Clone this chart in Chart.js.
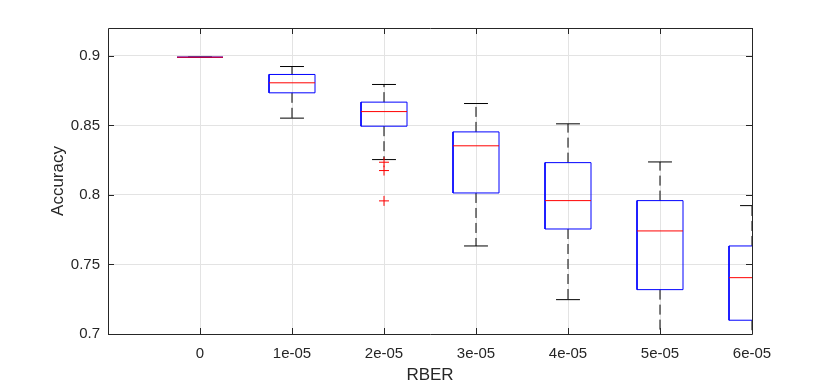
<!DOCTYPE html>
<html>
<head>
<meta charset="utf-8">
<script src="https://cdn.jsdelivr.net/npm/chart.js@4"></script>
<style>
  html, body { margin: 0; padding: 0; background: #fff; }
  canvas { display: block; }
</style>
</head>
<body>
<canvas id="boxChart" width="830" height="387"></canvas>
<script>
// RBER vs accuracy box plot (MATLAB style)

const categories = ['0', '1e-05', '2e-05', '3e-05', '4e-05', '5e-05', '6e-05'];
const upperWhisker = [0.899, 0.8923, 0.8794, 0.8657, 0.8511, 0.8237, 0.7923];
const q3Values = [0.899, 0.8866, 0.8667, 0.8453, 0.8232, 0.7959, 0.7633];
const medianValues = [0.899, 0.8806, 0.8599, 0.8353, 0.7959, 0.7741, 0.7405];
const q1Values = [0.899, 0.8734, 0.8494, 0.8014, 0.7755, 0.7319, 0.7099];
const lowerWhisker = [0.899, 0.8552, 0.8254, 0.7633, 0.7247, 0.69, 0.67];
const outlierCategory = [2, 2, 2];
const outlierValues = [0.8235, 0.8175, 0.7957];
const yTickValues = [0.7, 0.75, 0.8, 0.85, 0.9];
const yTickLabels = ['0.7', '0.75', '0.8', '0.85', '0.9'];

const BOX_HALF = 0.25;
const CAP_HALF = 0.13;
const TEXT_COLOR = '#262626';

// build segment lists, null point breaks the line
function gap(i) { return { x: i, y: null }; }

function boxOutlines() {
    const pts = [];
    categories.forEach((c, i) => {
        const l = i - BOX_HALF, r = i + BOX_HALF;
        pts.push({ x: l, y: q1Values[i] }, { x: r, y: q1Values[i] },
                 { x: r, y: q3Values[i] }, { x: l, y: q3Values[i] },
                 { x: l, y: q1Values[i] }, gap(i));
    });
    return pts;
}

function whiskerLines() {
    const pts = [];
    categories.forEach((c, i) => {
        pts.push({ x: i, y: q3Values[i] }, { x: i, y: upperWhisker[i] }, gap(i));
        pts.push({ x: i, y: q1Values[i] }, { x: i, y: lowerWhisker[i] }, gap(i));
    });
    return pts;
}

function capLines() {
    const pts = [];
    categories.forEach((c, i) => {
        pts.push({ x: i - CAP_HALF, y: upperWhisker[i] }, { x: i + CAP_HALF, y: upperWhisker[i] }, gap(i));
        pts.push({ x: i - CAP_HALF, y: lowerWhisker[i] }, { x: i + CAP_HALF, y: lowerWhisker[i] }, gap(i));
    });
    return pts;
}

function medianLines() {
    const pts = [];
    categories.forEach((c, i) => {
        pts.push({ x: i - BOX_HALF, y: medianValues[i] }, { x: i + BOX_HALF, y: medianValues[i] }, gap(i));
    });
    return pts;
}

function outlierPoints() {
    return outlierValues.map((v, k) => ({ x: outlierCategory[k], y: v }));
}

// frame with inward tick marks on all four sides
const framePlugin = {
    id: 'frame',
    afterDatasetsDraw(chart) {
        const { ctx, chartArea: a, scales } = chart;
        const tick = 6;
        ctx.save();
        ctx.strokeStyle = TEXT_COLOR;
        ctx.lineWidth = 1;
        ctx.beginPath();
        ctx.rect(a.left + 0.5, a.top + 0.5, a.right - a.left, a.bottom - a.top);
        categories.forEach((c, i) => {
            const x = Math.round(scales.x.getPixelForValue(i)) + 0.5;
            ctx.moveTo(x, a.bottom); ctx.lineTo(x, a.bottom - tick);
            ctx.moveTo(x, a.top); ctx.lineTo(x, a.top + tick);
        });
        yTickValues.forEach(v => {
            const y = Math.round(scales.y.getPixelForValue(v)) + 0.5;
            ctx.moveTo(a.left, y); ctx.lineTo(a.left + tick, y);
            ctx.moveTo(a.right, y); ctx.lineTo(a.right - tick, y);
        });
        ctx.stroke();
        ctx.restore();
    }
};

const lineDefaults = {
    type: 'line',
    pointRadius: 0,
    borderWidth: 1,
    fill: false,
    tension: 0,
    spanGaps: false
};

new Chart(document.getElementById('boxChart'), {
    data: {
        datasets: [
            Object.assign({}, lineDefaults, { label: 'median', data: medianLines(), borderColor: '#ff0000', order: 0 }),
            {
                type: 'scatter', label: 'outliers', data: outlierPoints(),
                pointStyle: 'cross', pointRadius: 5, borderColor: '#ff0000',
                pointBorderWidth: 1, showLine: false, order: 1
            },
            Object.assign({}, lineDefaults, { label: 'box', data: boxOutlines(), borderColor: '#0000ff', order: 2 }),
            Object.assign({}, lineDefaults, { label: 'caps', data: capLines(), borderColor: '#000000', order: 3 }),
            Object.assign({}, lineDefaults, { label: 'whiskers', data: whiskerLines(), borderColor: '#000000', borderDash: [10, 5], order: 4 })
        ]
    },
    options: {
        responsive: false,
        animation: false,
        devicePixelRatio: 1,
        layout: { padding: { top: 28, right: 78, left: 0, bottom: 0 } },
        plugins: {
            legend: { display: false },
            tooltip: { enabled: false }
        },
        scales: {
            x: {
                type: 'linear',
                min: -1,
                max: 6,
                afterBuildTicks: s => { s.ticks = categories.map((c, i) => ({ value: i })); },
                afterFit: s => { s.height = 53; },
                ticks: {
                    callback: v => categories[v],
                    font: { family: "'Liberation Sans', Arial, sans-serif", size: 15 },
                    color: TEXT_COLOR,
                    padding: 11,
                    maxRotation: 0,
                    autoSkip: false
                },
                grid: { color: '#e3e3e3', drawTicks: false },
                border: { display: false },
                title: {
                    display: true,
                    text: 'RBER',
                    font: { family: "'Liberation Sans', Arial, sans-serif", size: 17 },
                    color: TEXT_COLOR,
                    padding: { top: 0, bottom: 1 }
                }
            },
            y: {
                min: 0.7,
                max: 0.92,
                afterBuildTicks: s => { s.ticks = yTickValues.map(v => ({ value: v })); },
                afterFit: s => { s.width = 108; },
                ticks: {
                    callback: (v, idx) => yTickLabels[idx],
                    font: { family: "'Liberation Sans', Arial, sans-serif", size: 15 },
                    color: TEXT_COLOR,
                    padding: 8
                },
                grid: { color: '#e3e3e3', drawTicks: false },
                border: { display: false },
                title: {
                    display: true,
                    text: 'Accuracy',
                    font: { family: "'Liberation Sans', Arial, sans-serif", size: 17 },
                    color: TEXT_COLOR,
                    padding: { top: 48, bottom: 0 }
                }
            }
        }
    },
    plugins: [framePlugin]
});
</script>
</body>
</html>
